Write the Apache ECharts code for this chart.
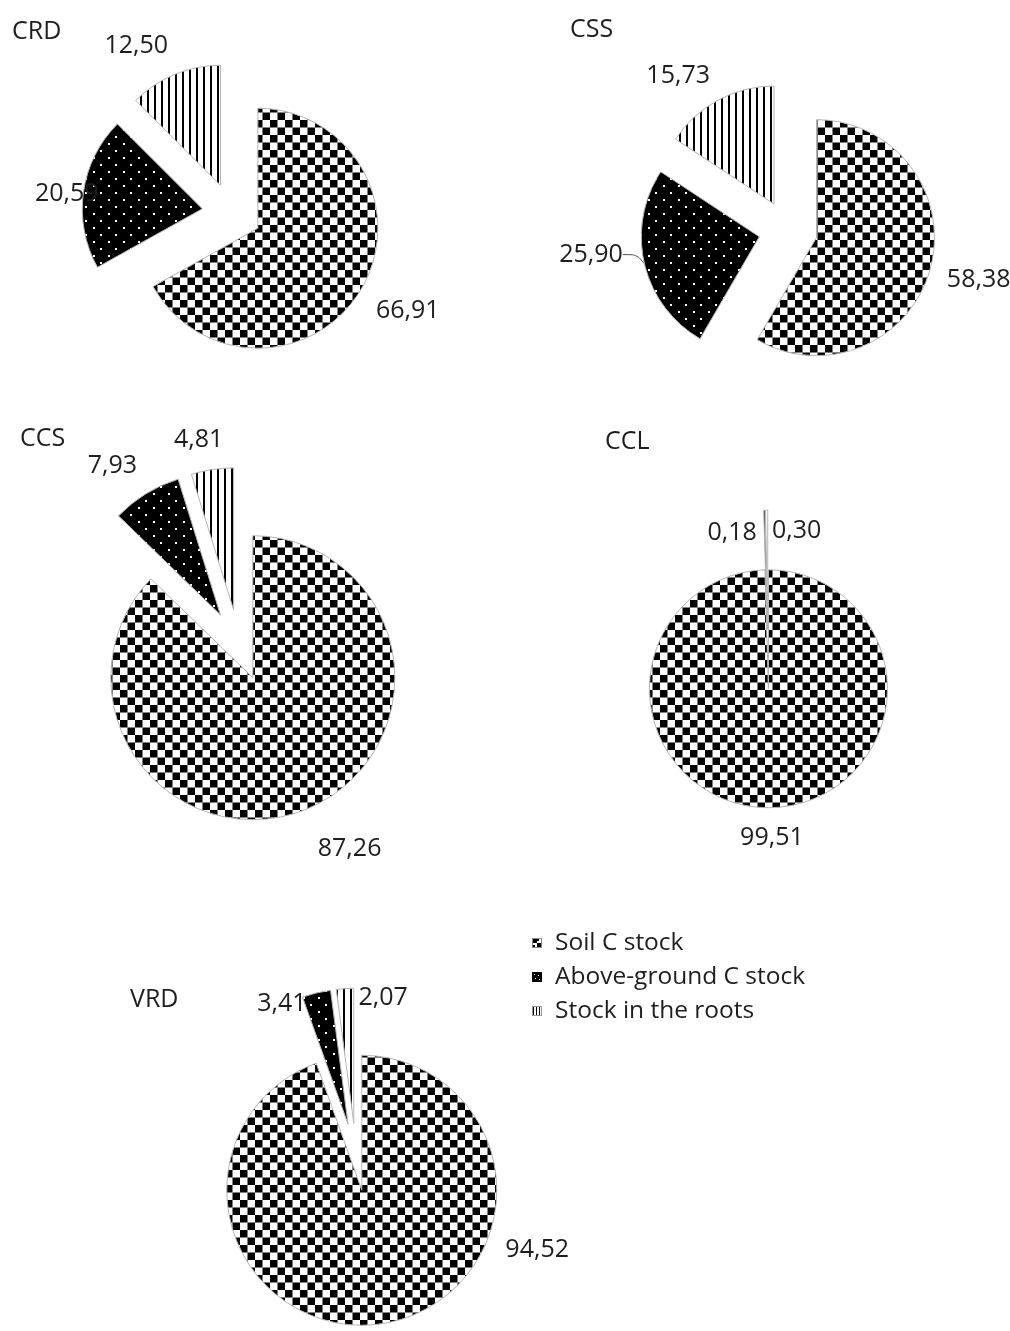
<!DOCTYPE html>
<html>
<head>
<meta charset="utf-8">
<script src="https://cdn.jsdelivr.net/npm/echarts@6/dist/echarts.min.js"></script>
<style>
  html, body { margin: 0; padding: 0; background: #ffffff; }
  #chart { width: 1010px; height: 1331px; }
</style>
</head>
<body>
<div id="chart"></div>
<script>
// Carbon stock shares (%) per site: soil, above-ground, roots
const componentNames = ['Soil C stock', 'Above-ground C stock', 'Stock in the roots'];
const siteNames = ['CRD', 'CSS', 'CCS', 'CCL', 'VRD'];
const crdValues = [66.91, 20.59, 12.50];
const cssValues = [58.38, 25.90, 15.73];
const ccsValues = [87.26, 7.93, 4.81];
const cclValues = [99.51, 0.18, 0.30];
const vrdValues = [94.52, 3.41, 2.07];
const siteValues = [crdValues, cssValues, ccsValues, cclValues, vrdValues];

// Placement of each pie on the page
const pieLayout = [
  { center: [232, 213],  radius: 120, titlePos: [12, 19] },
  { center: [788, 230],  radius: 118, titlePos: [570, 17] },
  { center: [239, 645],  radius: 142, titlePos: [20, 426] },
  { center: [768, 659],  radius: 119, titlePos: [605, 429] },
  { center: [356, 1157], radius: 135, titlePos: [130, 987] }
];
const explodeRatio = 0.25;   // every slice pulled out by a quarter of the radius
const labelGap = 17;

// Hand adjustments for labels that sit beside their slice instead of at its outer end
const labelNudge = [
  [[0, 0], [32, 8], [0, 0]],
  [[0, 0], [-5, -19], [0, 4]],
  [[3, 12], [0, 0], [0, 0]],
  [[0, 0], [-30, 53], [31, 51]],
  [[133, -103], [-13, 40], [44, 39]]
];
// Labels that keep a leader line back to their slice
const leaderLine = [
  [false, false, false],
  [false, true, false],
  [false, false, false],
  [false, false, false],
  [false, false, false]
];

const FONT = '"Open Sans", "Noto Sans", sans-serif';
const TEXT_COLOR = '#1e1e1e';

function makeTile(w, h, draw) {
  const c = document.createElement('canvas');
  c.width = w; c.height = h;
  draw(c.getContext('2d'));
  return c;
}

// Fill patterns
const checkerTile = makeTile(15, 15, g => {
  g.fillStyle = '#fff'; g.fillRect(0, 0, 15, 15);
  g.fillStyle = '#000';
  g.fillRect(0, 0, 7.5, 7.5);
  g.fillRect(7.5, 7.5, 7.5, 7.5);
});
const dotsTile = makeTile(15, 14, g => {
  g.fillStyle = '#000'; g.fillRect(0, 0, 15, 14);
  g.fillStyle = '#fff';
  g.fillRect(3, 3, 2, 2);
  g.fillRect(10, 10, 2, 2);
});
const stripeTile = makeTile(7, 7, g => {
  g.fillStyle = '#fff'; g.fillRect(0, 0, 7, 7);
  g.fillStyle = '#000'; g.fillRect(0, 0, 2, 7);
});
const patternFills = [
  { image: checkerTile, repeat: 'repeat' },
  { image: dotsTile, repeat: 'repeat' },
  { image: stripeTile, repeat: 'repeat' }
];

// Legend swatches (drawn in the left part of an 18x10 box)
function legendIcon(kind) {
  const c = makeTile(18, 10, g => {
    g.clearRect(0, 0, 18, 10);
    if (kind === 0) {
      g.fillStyle = '#fff'; g.fillRect(0.5, 0.5, 9, 9);
      g.fillStyle = '#000';
      g.fillRect(1, 1, 4, 4); g.fillRect(5, 5, 4, 4);
      g.fillRect(5, 1, 2, 2); g.fillRect(1, 7, 2, 2);
      g.strokeStyle = '#888'; g.lineWidth = 1; g.strokeRect(0.5, 0.5, 9, 9);
    } else if (kind === 1) {
      g.fillStyle = '#000'; g.fillRect(0, 0, 10, 10);
      g.fillStyle = '#fff';
      g.fillRect(2, 2, 1, 1); g.fillRect(6, 3, 1, 1);
      g.fillRect(3, 6, 1, 1); g.fillRect(7, 7, 1, 1);
    } else {
      g.fillStyle = '#fff'; g.fillRect(0, 0, 10, 10);
      g.fillStyle = '#000';
      g.fillRect(1, 1, 1, 8); g.fillRect(4, 1, 1, 8); g.fillRect(7, 1, 1, 8);
      g.strokeStyle = '#999'; g.lineWidth = 1; g.strokeRect(0.5, 0.5, 9, 9);
    }
  });
  return 'image://' + c.toDataURL();
}

function clamp(v) { return Math.max(-1, Math.min(1, v)); }

// Direction (screen coords) of the bisector of slice i, angles clockwise from 12 o'clock
function sliceDirection(vals, i) {
  const total = vals.reduce((a, b) => a + b, 0);
  let cum = 0;
  for (let k = 0; k < i; k++) cum += vals[k];
  const a = (cum + vals[i] / 2) / total * 2 * Math.PI;
  return [Math.sin(a), -Math.cos(a)];
}

// Outside-end label placement from the slice geometry
function labelLayoutFor(s, i) {
  const vals = siteValues[s];
  const lay = pieLayout[s];
  return function (p) {
    if (p.dataIndex !== i) return;
    const [dx, dy] = sliceDirection(vals, i);
    const dist = lay.radius * (1 + explodeRatio) + labelGap;
    const hw = p.labelRect.width / 2, hh = p.labelRect.height / 2;
    const n = labelNudge[s][i];
    return {
      x: lay.center[0] + dx * dist + hw * clamp(dx * 3) + n[0],
      y: lay.center[1] + dy * dist + hh * clamp(dy * 2) + n[1],
      align: 'center',
      verticalAlign: 'middle'
    };
  };
}

// One pie series per exploded slice: the whole pie is laid out by ECharts,
// only slice i is painted, and its centre is pulled out along the slice bisector.
const series = [];
siteValues.forEach((vals, s) => {
  const lay = pieLayout[s];
  const offset = lay.radius * explodeRatio;
  vals.forEach((_, i) => {
    const [dx, dy] = sliceDirection(vals, i);
    series.push({
      type: 'pie',
      name: siteNames[s] + ' ' + componentNames[i],
      center: [lay.center[0] + dx * offset, lay.center[1] + dy * offset],
      radius: [0, lay.radius],
      startAngle: 90,
      clockwise: true,
      avoidLabelOverlap: false,
      animation: false,
      silent: true,
      label: {
        show: false,
        position: 'outside',
        fontFamily: FONT,
        fontSize: 25,
        lineHeight: 26,
        color: TEXT_COLOR,
        formatter: p => p.value.toFixed(2).replace('.', ',')
      },
      labelLine: {
        show: leaderLine[s][i],
        length: 4,
        length2: 14,
        smooth: 0.3,
        lineStyle: { color: '#4a4a4a', width: 1 }
      },
      labelLayout: labelLayoutFor(s, i),
      data: vals.map((v, k) => ({
        name: componentNames[k],
        value: v,
        itemStyle: k === i
          ? { color: patternFills[k], borderColor: '#b5b5b5', borderWidth: 1 }
          : { color: 'rgba(0,0,0,0)', borderWidth: 0 },
        label: { show: k === i },
        labelLine: { show: k === i && leaderLine[s][i] }
      }))
    });
  });
});

const titles = siteNames.map((name, s) => ({
  text: name,
  left: pieLayout[s].titlePos[0],
  top: pieLayout[s].titlePos[1],
  padding: 0,
  textStyle: { fontFamily: FONT, fontSize: 25, fontWeight: 'normal', color: TEXT_COLOR, lineHeight: 25 }
}));

const chart = echarts.init(document.getElementById('chart'), null, { renderer: 'canvas' });
chart.setOption({
  backgroundColor: '#ffffff',
  animation: false,
  title: titles,
  legend: {
    orient: 'vertical',
    left: 532,
    top: 930,
    padding: 0,
    itemWidth: 18,
    itemHeight: 10,
    itemGap: 8,
    selectedMode: false,
    textStyle: { fontFamily: FONT, fontSize: 24.5, color: TEXT_COLOR, lineHeight: 26 },
    data: componentNames.map((n, i) => ({ name: n, icon: legendIcon(i) }))
  },
  series: series
});
</script>
</body>
</html>
